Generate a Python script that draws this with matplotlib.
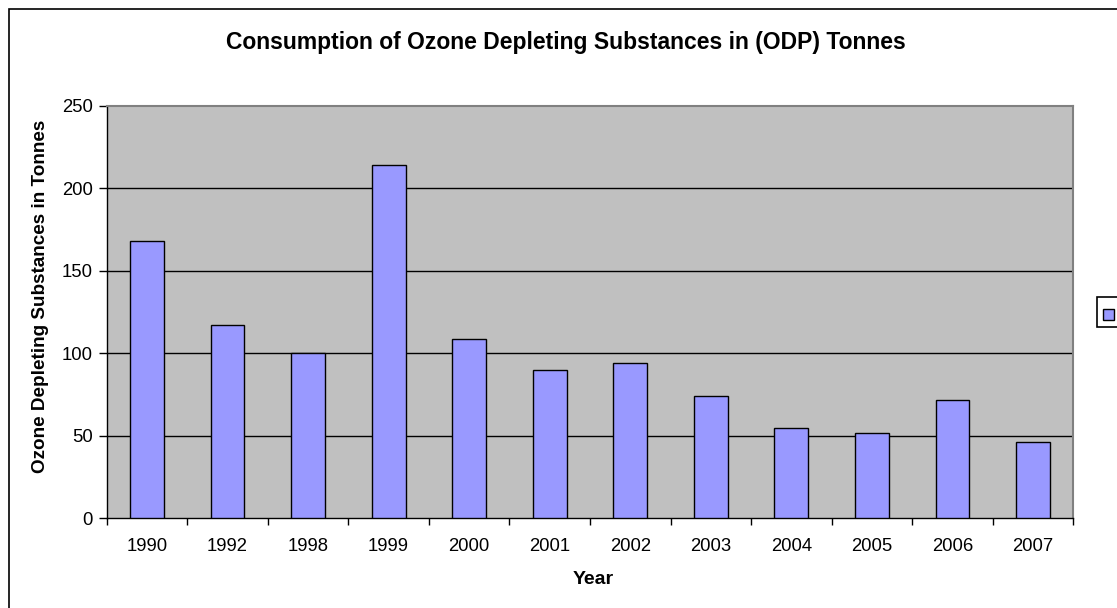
import matplotlib.pyplot as plt
from matplotlib.patches import Rectangle
import numpy as np

plt.rcParams['font.family'] = ['Liberation Sans', 'DejaVu Sans']

# data
years = ["1990", "1992", "1998", "1999", "2000", "2001", "2002", "2003", "2004", "2005", "2006", "2007"]
tonnes = [168, 117, 100, 214, 109, 90, 94, 74, 55, 52, 72, 46]
yticks = [0, 50, 100, 150, 200, 250]

W, H = 1117, 608
fig = plt.figure(figsize=(W / 100, H / 100), dpi=100)
fig.patch.set_facecolor("white")

# axes placed in pixel terms
left, right, top, bottom = 106.7, 1073.3, 106, 518.3
ax = fig.add_axes([left / W, 1 - bottom / H, (right - left) / W, (bottom - top) / H])
ax.set_facecolor("#C0C0C0")

x = np.arange(len(years))
ax.bar(x, tonnes, width=0.42, color="#9999FF", edgecolor="black", linewidth=1.0, zorder=3)

ax.set_xlim(-0.5, len(years) - 0.5)
ax.set_ylim(0, 250)
ax.set_yticks(yticks)
ax.set_yticklabels([str(v) for v in yticks], fontsize=13.3)

# category labels centred, ticks on the boundaries (Excel style)
ax.set_xticks(x)
ax.set_xticklabels(years, fontsize=13.3)
ax.tick_params(axis="x", length=0, pad=14)
ax.set_xticks(np.arange(-0.5, len(years), 1), minor=True)
ax.tick_params(axis="x", which="minor", length=5, width=1, color="black", direction="out")
ax.tick_params(axis="y", length=6, width=1, color="black", direction="out", pad=4)

for v in yticks[1:-1]:
    ax.axhline(v, color="black", linewidth=1.0, zorder=1)

for s in ["top", "right"]:
    ax.spines[s].set_color("#808080")
    ax.spines[s].set_linewidth(1.5)
for s in ["left", "bottom"]:
    ax.spines[s].set_color("black")
    ax.spines[s].set_linewidth(1.0)

fig.text(593 / W, 1 - 580 / H, "Year", ha="center", va="center", fontsize=14, fontweight="bold")
fig.text(41 / W, 1 - 296 / H, "Ozone Depleting Substances in Tonnes", ha="center", va="center",
         rotation=90, fontsize=13.6, fontweight="bold")

fig.text(566 / W, 1 - 43 / H, "Consumption of Ozone Depleting Substances in (ODP) Tonnes",
         ha="center", va="center", fontsize=16.5, fontweight="bold")

# outer chart border (runs off the right and bottom edges)
fig.patches.append(Rectangle((9 / W, -0.1), 1.2, 1 - 9 / H + 0.1, transform=fig.transFigure,
                             fill=False, edgecolor="black", linewidth=1.2, zorder=0))

# legend box with an empty entry, cut off at the right edge
fig.patches.append(Rectangle((1096.7 / W, 1 - 327 / H), 0.1, 29.7 / H, transform=fig.transFigure,
                             facecolor="white", edgecolor="black", linewidth=1.2))
fig.patches.append(Rectangle((1103 / W, 1 - 320 / H), 11 / W, 11 / H, transform=fig.transFigure,
                             facecolor="#9999FF", edgecolor="black", linewidth=1.0))

fig.savefig("out.png", dpi=100)
